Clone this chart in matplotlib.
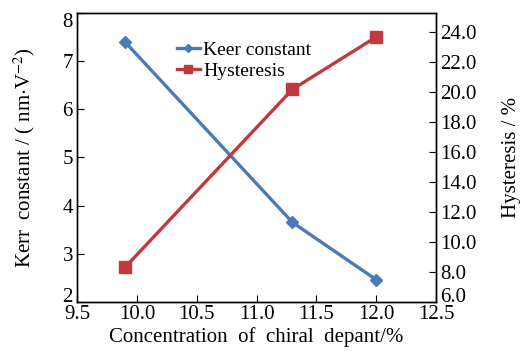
import matplotlib
matplotlib.use("Agg")
import matplotlib.pyplot as plt

plt.rcParams['font.family'] = ['Liberation Serif', 'DejaVu Serif']
plt.rcParams['mathtext.fontset'] = 'stix'

conc = [9.9, 11.3, 12.0]
kerr = [7.40, 3.65, 2.46]
hyst = [8.3, 20.2, 23.7]

x_ticks = [9.5, 10.0, 10.5, 11.0, 11.5, 12.0, 12.5]
left_ticks = [2, 3, 4, 5, 6, 7, 8]
right_ticks = [6.0, 8.0, 10.0, 12.0, 14.0, 16.0, 18.0, 20.0, 22.0, 24.0]

blue = '#4a7bb7'
red = '#c0393c'

fig = plt.figure(figsize=(5.21, 3.51), dpi=100)
ax = fig.add_axes([0.148, 0.140, 0.689, 0.823])
ax2 = ax.twinx()

l1, = ax.plot(conc, kerr, color=blue, lw=2.4, marker='D', ms=6, label='Keer constant')
l2, = ax2.plot(conc, hyst, color=red, lw=2.4, marker='s', ms=9, label='Hysteresis')

ax.set_xlim(9.5, 12.5)
ax.set_ylim(2, 8)
ax2.set_ylim(6, 25.3)
ax.set_xticks(x_ticks)
ax.set_xticklabels([f'{v:.1f}' for v in x_ticks])
ax.set_yticks(left_ticks)
ax.set_yticklabels([str(v) for v in left_ticks])
ax2.set_yticks(right_ticks)
ax2.set_yticklabels([f'{v:.1f}' for v in right_ticks])

fs = 15
ax.tick_params(axis='x', direction='in', length=5, labelsize=fs, pad=2.5, top=False)
ax.tick_params(axis='y', direction='in', length=5, labelsize=fs, pad=3, right=False)
ax2.tick_params(axis='y', direction='in', length=5, labelsize=fs, pad=3)

# end labels sit inside the axis span, as in the reference
ylabs = ax.get_yticklabels()
ylabs[0].set_va('baseline')
ylabs[-1].set_va('top')
ax2.get_yticklabels()[0].set_va('baseline')

ax.set_xlabel('Concentration  of  chiral  depant/%', fontsize=15, labelpad=2)
ax.set_ylabel('Kerr  constant / ( nm$\\cdot$V$^{-2}$)', fontsize=15, labelpad=18)
ax2.set_ylabel('Hysteresis / %', fontsize=15, labelpad=18)

for a in (ax, ax2):
    for s in a.spines.values():
        s.set_linewidth(1.0)

ax.legend(handles=[l1, l2], loc='upper left', bbox_to_anchor=(0.256, 0.93),
          frameon=False, fontsize=14, handlelength=1.2, handletextpad=0.15,
          borderaxespad=0, labelspacing=0.2, markerscale=0.7)

fig.savefig('out.png', dpi=100)
